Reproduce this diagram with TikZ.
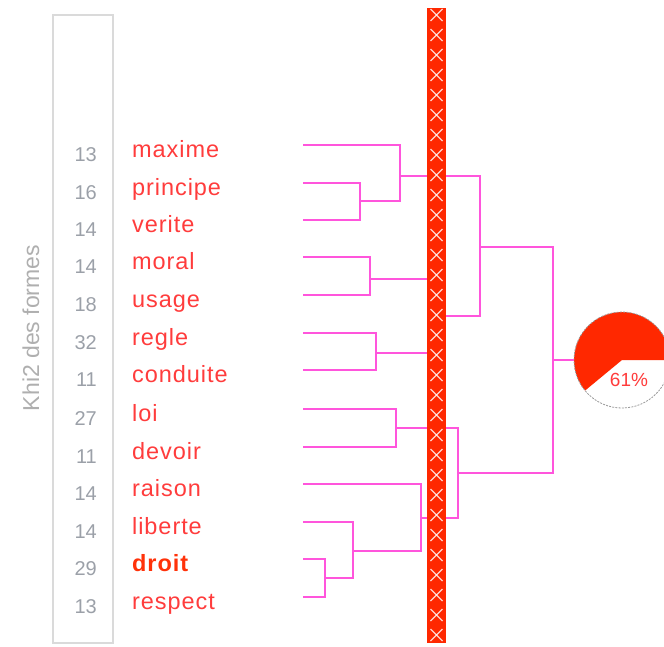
\documentclass[tikz,border=0pt]{standalone}
\usepackage{fontspec}
\setmainfont{Liberation Sans}
\definecolor{barred}{RGB}{255,40,0}
\definecolor{labred}{RGB}{255,60,60}
\definecolor{droitred}{RGB}{255,50,10}
\definecolor{dend}{RGB}{255,85,220}
\definecolor{numg}{RGB}{155,160,168}
\definecolor{axisg}{RGB}{175,175,175}
\definecolor{boxg}{RGB}{218,218,218}
\begin{document}
\begin{tikzpicture}[x=1pt,y=-1pt,
  lab/.style={anchor=base west, text=labred, inner sep=0pt,
    font=\fontsize{23.5}{26}\selectfont\addfontfeatures{LetterSpace=4}},
  num/.style={anchor=base east, text=numg, inner sep=0pt,
    font=\fontsize{20}{24}\selectfont},
  link/.style={draw=dend, line width=2pt},
  xmark/.style={draw=white, line width=1.3pt, opacity=0.8}]
\useasboundingbox (0,0) rectangle (664,646);
\clip (0,0) rectangle (664,646);
% left box
\node[draw=boxg, line width=1.5pt, minimum width=60pt, minimum height=628pt, inner sep=0pt] (box) at (83,329) {};
\node[rotate=90, text=axisg, font=\fontsize{23}{26}\selectfont] (axis) at (31,328) {Khi2 des formes};
% leaves
\foreach \n/\y/\k in {maxime/145/13, principe/183/16, verite/220/14, moral/257/14, usage/295/18, regle/333/32, conduite/370/11, loi/409/27, devoir/447/11, raison/484/14, liberte/522/14, respect/597/13} {
  \coordinate (L\n) at (303,\y);
  \node[lab] (t\n) at (132,\y+12) {\n};
  \node[num] (n\n) at (97,\y+16) {\k};
}
\coordinate (Ldroit) at (303,559);
\node[lab, text=droitred, font=\fontsize{23.5}{26}\selectfont\bfseries\addfontfeatures{LetterSpace=4}] (tdroit) at (132,571) {droit};
\node[num] (ndroit) at (97,575) {29};
% merge points
\coordinate (A1) at (360,201);
\coordinate (A2) at (400,176);
\coordinate (B1) at (370,279);
\coordinate (B2) at (376,353);
\coordinate (B3) at (437,316);
\coordinate (T1) at (480,247);
\coordinate (C1) at (396,428);
\coordinate (D1) at (325,578);
\coordinate (D2) at (353,551);
\coordinate (D3) at (421,518);
\coordinate (C2) at (458,473);
\coordinate (R) at (553,360);
% dendrogram
\draw[link] (Lprincipe) -| (A1) |- (Lverite);
\draw[link] (Lmaxime) -| (A2) |- (A1);
\draw[link] (Lmoral) -| (B1) |- (Lusage);
\draw[link] (Lregle) -| (B2) |- (Lconduite);
\draw[link] (B1) -| (B3) |- (B2);
\draw[link] (A2) -| (T1) |- (B3);
\draw[link] (Lloi) -| (C1) |- (Ldevoir);
\draw[link] (Ldroit) -| (D1) |- (Lrespect);
\draw[link] (Lliberte) -| (D2) |- (D1);
\draw[link] (Lraison) -| (D3) |- (D2);
\draw[link] (C1) -| (C2) |- (D3);
\draw[link] (T1) -| (R) |- (C2);
% cut bar
\fill[barred] (427,8) rectangle (446,643);
\foreach \k in {0,...,31} {
  \draw[xmark] (430.5,15+20*\k-6) -- (442.5,15+20*\k+6);
  \draw[xmark] (430.5,15+20*\k+6) -- (442.5,15+20*\k-6);
}
% pie
\node[circle, minimum size=96pt, inner sep=0pt, fill=white] (pie) at (622,360) {};
\fill[barred] (pie.center) -- ++(48,0) arc[start angle=0, end angle=-219.6, radius=48] -- cycle;
\draw[gray!80, line width=0.8pt, dash pattern=on 2pt off 1.2pt] (pie.center) circle[radius=48];
\node[text=labred, font=\fontsize{19}{22}\selectfont] (pct) at (629,380) {61\%};
\draw[link] (R) -- (pie.west);
\end{tikzpicture}
\end{document}
